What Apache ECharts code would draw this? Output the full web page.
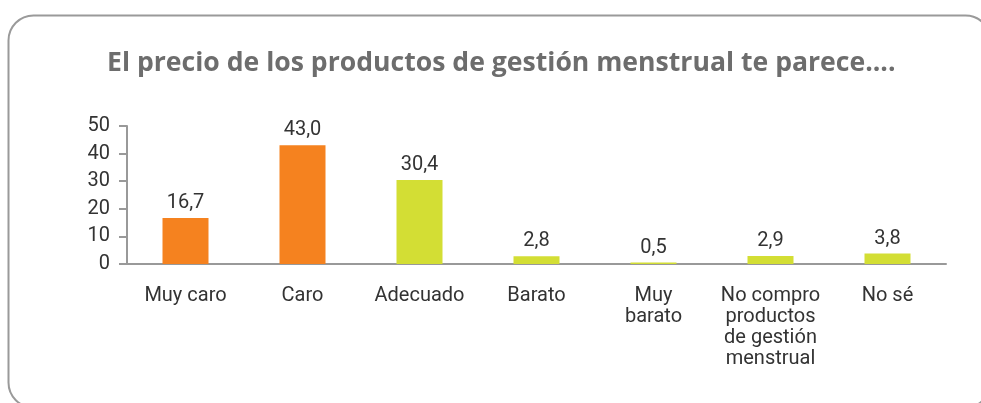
<!DOCTYPE html>
<html>
<head>
<meta charset="utf-8">
<script src="https://cdn.jsdelivr.net/npm/echarts@6/dist/echarts.min.js"></script>
<style>html,body{margin:0;padding:0;background:#fff;}#c{width:981px;height:403px;}</style>
</head>
<body>
<div id="c"></div>
<script>
var titleText = 'El precio de los productos de gestión menstrual te parece....';
var categories = ['Muy caro', 'Caro', 'Adecuado', 'Barato', 'Muy\nbarato', 'No compro\nproductos\nde gestión\nmenstrual', 'No sé'];
var values = [16.7, 43.0, 30.4, 2.8, 0.5, 2.9, 3.8];
var barColors = ['#F5821F', '#F5821F', '#D3DE34', '#D3DE34', '#D3DE34', '#D3DE34', '#D3DE34'];
var yTicks = [0, 10, 20, 30, 40, 50];

var chart = echarts.init(document.getElementById('c'), null, {renderer: 'canvas'});
chart.setOption({
  animation: false,
  backgroundColor: '#fff',
  graphic: [{
    type: 'rect', left: 6, top: 13, silent: true,
    shape: {width: 982, height: 392, r: 25},
    style: {fill: 'none', stroke: '#9a9a9a', lineWidth: 2}
  }],
  title: {
    text: titleText, left: 102, top: 45,
    textStyle: {fontFamily: 'Open Sans', fontWeight: 'bold', fontSize: 26.6, color: '#6d6d6d'}
  },
  grid: {left: 127, right: 35, top: 126, bottom: 139},
  xAxis: {
    type: 'category', data: categories,
    axisLine: {lineStyle: {color: '#999', width: 2}},
    axisTick: {show: false},
    axisLabel: {interval: 0, margin: 21, fontFamily: 'Roboto', fontSize: 20, lineHeight: 21, color: '#333'}
  },
  yAxis: {
    type: 'value', min: yTicks[0], max: yTicks[yTicks.length - 1], interval: 10,
    splitLine: {show: false},
    axisLine: {show: true, lineStyle: {color: '#999', width: 2}},
    axisTick: {show: true, length: 8, lineStyle: {color: '#999', width: 2}},
    axisLabel: {margin: 17, fontFamily: 'Roboto', fontSize: 20, color: '#333'}
  },
  series: [{
    type: 'bar', barWidth: 46,
    data: values.map(function (v, i) { return {value: v, itemStyle: {color: barColors[i]}}; }),
    label: {
      show: true, position: 'top', distance: 5,
      fontFamily: 'Roboto', fontSize: 20, color: '#333',
      formatter: function (p) { return p.value.toFixed(1).replace('.', ','); }
    }
  }]
});
</script>
</body>
</html>
